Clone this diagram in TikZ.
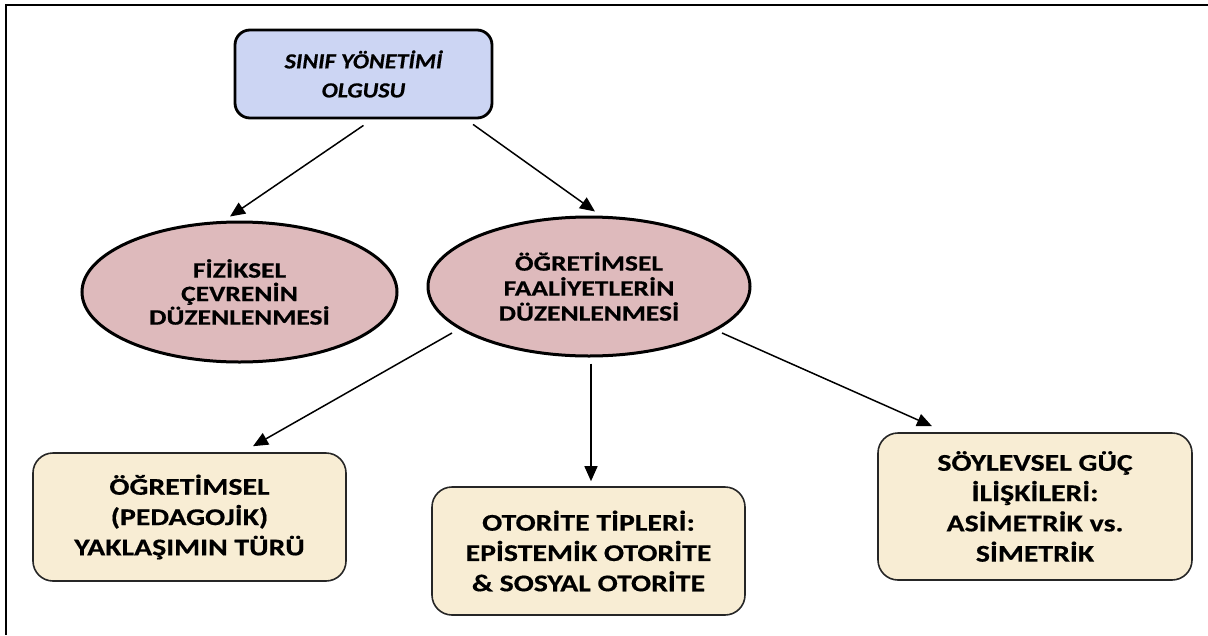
\documentclass[tikz,border=0pt]{standalone}
\usepackage{fontspec}
\usetikzlibrary{shapes.geometric,arrows.meta}
\newfontfamily\ellfont[FakeStretch=1.25, BoldFeatures={FakeBold=0.5}]{Carlito}
\newfontfamily\leaffont[FakeStretch=1.24, BoldFeatures={FakeBold=0.5}]{Carlito}
\newfontfamily\topfont[FakeStretch=1.12, BoldItalicFeatures={FakeBold=0.5}]{Carlito}
\definecolor{topblue}{RGB}{204,213,243}
\definecolor{ellpink}{RGB}{222,186,188}
\definecolor{leafcream}{RGB}{248,237,212}
\begin{document}
\begin{tikzpicture}[x=1pt,y=-1pt,
  topbox/.style={draw=black, line width=2.8pt, rounded corners=15pt, fill=topblue,
    minimum width=257pt, minimum height=88pt, inner sep=0pt, align=center,
    font=\topfont\fontsize{21.5}{29}\selectfont\bfseries\itshape},
  ell/.style={ellipse, draw=black, line width=3pt, fill=ellpink, inner sep=0pt,
    align=center, font=\ellfont\fontsize{22}{23.5}\selectfont\bfseries},
  leaf/.style={draw=black!85, line width=1.6pt, rounded corners=20pt, fill=leafcream,
    minimum width=313pt, inner sep=0pt, align=center,
    font=\leaffont\fontsize{24}{30.3}\selectfont\bfseries},
  arr/.style={-{Triangle[length=15pt,width=13pt]}, line width=1.5pt},
  frame/.style={line width=2pt}]
\useasboundingbox (0,0) rectangle (1208,635);
\coordinate (fr1) at (1208,5);
\coordinate (fr2) at (6,5);
\coordinate (fr3) at (6,635);
\draw[frame] (fr1) -- (fr2) -- (fr3);

\node[topbox] (top) at (363.5,74) {SINIF YÖNETİMİ\\OLGUSU};
\node[ell, minimum width=315pt, minimum height=140pt] (el1) at (239.5,292)
  {FİZİKSEL\\ÇEVRENİN\\DÜZENLENMESİ};
\node[ell, minimum width=322pt, minimum height=139pt, font=\ellfont\fontsize{22}{25}\selectfont\bfseries] (el2) at (589,286.5)
  {ÖĞRETİMSEL\\FAALİYETLERİN\\DÜZENLENMESİ};
\node[leaf, minimum height=128pt] (b1) at (189.5,517)
  {ÖĞRETİMSEL\\(PEDAGOJİK)\\YAKLAŞIMIN TÜRÜ};
\node[leaf, minimum height=128pt] (b2) at (588.5,551)
  {OTORİTE TİPLERİ:\\EPİSTEMİK OTORİTE\\\& SOSYAL OTORİTE};
\node[leaf, minimum width=314pt, minimum height=147pt] (b3) at (1035,506.5)
  {SÖYLEVSEL GÜÇ\\İLİŞKİLERİ:\\ASİMETRİK vs.\\SİMETRİK};

\draw[arr] ([yshift=-6pt]top.south) -- ([xshift=-9.5pt,yshift=4pt]el1.north);
\draw[arr] ([xshift=109.5pt,yshift=-5pt]top.south) -- ([xshift=6pt,yshift=4pt]el2.north);
\draw[arr] ([xshift=-137pt,yshift=-46.5pt]el2.center) -- ([xshift=63.5pt,yshift=6pt]b1.north);
\draw[arr] ([xshift=2pt,yshift=-6pt]el2.south) -- ([xshift=2.5pt,yshift=5pt]b2.north);
\draw[arr] ([xshift=133pt,yshift=-46.5pt]el2.center) -- ([xshift=-103pt,yshift=6pt]b3.north);
\end{tikzpicture}
\end{document}
